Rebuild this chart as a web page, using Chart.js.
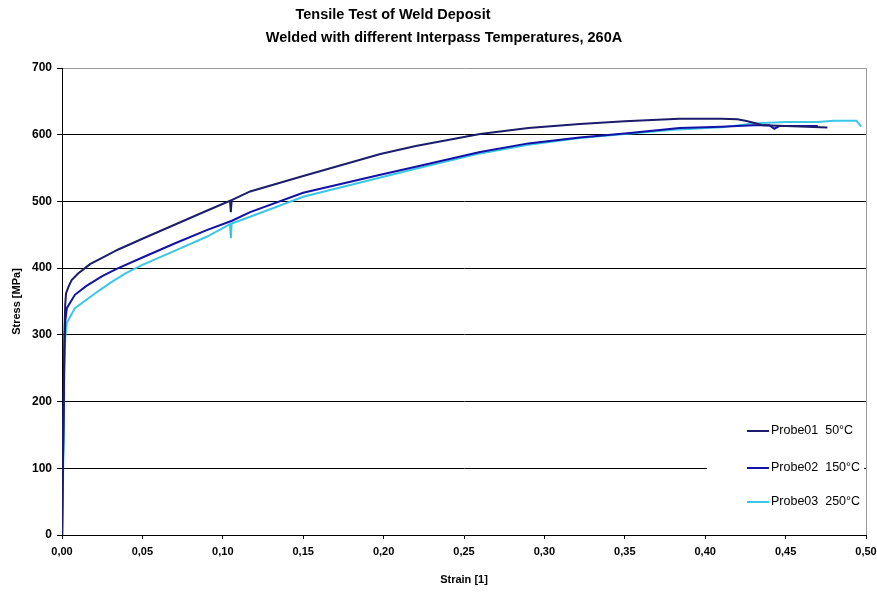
<!DOCTYPE html>
<html>
<head>
<meta charset="utf-8">
<title>Tensile Test of Weld Deposit</title>
<script src="https://cdn.jsdelivr.net/npm/chart.js@4.4.1/dist/chart.umd.min.js"></script>
<style>
  html, body { margin: 0; padding: 0; background: #fff; }
  #wrap { width: 877px; height: 594px; position: relative; }
</style>
</head>
<body>
<div id="wrap"><canvas id="tensileChart" width="877" height="594"></canvas></div>
<script>
/* ===== Daten ===== */
const TITLE_1 = "Tensile Test of Weld Deposit";
const TITLE_2 = "Welded with different Interpass Temperatures, 260A";

const xTickLabels = ["0,00", "0,05", "0,10", "0,15", "0,20", "0,25", "0,30", "0,35", "0,40", "0,45", "0,50"];
const yTickLabels = ["0", "100", "200", "300", "400", "500", "600", "700"];

const seriesNames = ["Probe01 50°C", "Probe02 150°C", "Probe03 250°C"];
const seriesColors = ["#1c1c6b", "#1212a6", "#3cc6e6"];

// Dehnung [1]
const probe01Strain = [0, 0.0008, 0.0015, 0.002, 0.0025, 0.004, 0.006, 0.010, 0.0143, 0.0174, 0.027, 0.035, 0.05, 0.07, 0.09, 0.1045, 0.105, 0.1055, 0.117, 0.15, 0.198, 0.22, 0.26, 0.29, 0.322, 0.35, 0.384, 0.41, 0.42, 0.425, 0.43, 0.436, 0.45, 0.476];
// Spannung [MPa]
const probe01Stress = [0, 150, 300, 345, 362, 372, 382, 392, 400, 406, 418, 428, 444, 465, 486, 501, 484, 502, 515, 538, 571, 583, 601, 610, 616, 620, 624, 624, 623, 621, 618, 614, 613, 611];

const probe02Strain = [0, 0.0008, 0.0015, 0.002, 0.003, 0.008, 0.015, 0.025, 0.034, 0.05, 0.07, 0.09, 0.1057, 0.117, 0.15, 0.198, 0.22, 0.26, 0.29, 0.322, 0.35, 0.384, 0.41, 0.43, 0.44, 0.443, 0.446, 0.47];
const probe02Stress = [0, 140, 280, 320, 340, 360, 373, 388, 399, 416, 437, 457, 471, 484, 513, 540, 552, 574, 587, 596, 602, 610, 612, 614, 614, 609, 613, 613];

const probe03Strain = [0, 0.0005, 0.001, 0.0015, 0.002, 0.003, 0.008, 0.0205, 0.03, 0.04, 0.05, 0.07, 0.09, 0.1045, 0.105, 0.1055, 0.117, 0.15, 0.198, 0.22, 0.26, 0.29, 0.322, 0.35, 0.384, 0.41, 0.43, 0.45, 0.47, 0.48, 0.494, 0.496, 0.497];
const probe03Stress = [0, 60, 150, 250, 295, 318, 340, 362, 378, 393, 405, 426, 447, 466, 445, 467, 477, 507, 536, 549, 572, 585, 595, 601, 608, 611, 617, 619, 619, 621, 621, 615, 612];

const toPoints = (xs, ys) => xs.map((x, i) => ({ x, y: ys[i] }));

/* ===== Titel + Legende ===== */
const decorPlugin = {
  id: "decor",
  afterDraw(chart) {
    const ctx = chart.ctx;
    const area = chart.chartArea;
    ctx.save();
    ctx.fillStyle = "#000";
    ctx.textBaseline = "middle";
    ctx.textAlign = "center";
    ctx.font = "bold 14.5px 'Liberation Sans', Arial, sans-serif";
    ctx.fillText(TITLE_1, 393, 15);
    ctx.fillText(TITLE_2, 444, 38);

    // Legende im Diagramm
    ctx.fillStyle = "#fff";
    ctx.fillRect(707, 410, area.right - 709, 120);
    ctx.textAlign = "left";
    ctx.font = "12.5px 'Liberation Sans', Arial, sans-serif";
    const rows = [431, 468, 502];
    chart.data.datasets.forEach((ds, i) => {
      const y = rows[i];
      ctx.strokeStyle = ds.borderColor;
      ctx.lineWidth = 2;
      ctx.beginPath();
      ctx.moveTo(747, y);
      ctx.lineTo(769, y);
      ctx.stroke();
      ctx.fillStyle = "#000";
      ctx.fillText(ds.label.replace(" ", "  "), 771, y);
    });
    ctx.restore();
  }
};

/* ===== Diagramm ===== */
const ctx = document.getElementById("tensileChart").getContext("2d");
new Chart(ctx, {
  type: "line",
  data: {
    datasets: [
      { label: seriesNames[0], data: toPoints(probe01Strain, probe01Stress), borderColor: seriesColors[0] },
      { label: seriesNames[1], data: toPoints(probe02Strain, probe02Stress), borderColor: seriesColors[1] },
      { label: seriesNames[2], data: toPoints(probe03Strain, probe03Stress), borderColor: seriesColors[2] },
    ].map(d => ({ ...d, borderWidth: 2, pointRadius: 0, tension: 0, fill: false })),
  },
  options: {
    responsive: false,
    animation: false,
    layout: { padding: { left: 0, top: 68, right: 11, bottom: 0 } },
    plugins: {
      legend: { display: false },
      tooltip: { enabled: false },
    },
    scales: {
      x: {
        type: "linear",
        min: 0,
        max: 0.5,
        afterFit: s => { s.height = 59; s.paddingLeft = 0; s.paddingRight = 0; },
        ticks: {
          stepSize: 0.05,
          autoSkip: false,
          maxRotation: 0,
          padding: 6,
          color: "#000",
          font: { family: "'Liberation Sans', Arial, sans-serif", size: 11, weight: "bold" },
          callback: (v, i) => xTickLabels[i],
        },
        grid: {
          drawOnChartArea: true,
          color: c => (c.tick && Math.abs(c.tick.value - 0.5) < 1e-6 ? "#999" : "transparent"),
          tickColor: "#000",
          tickLength: 4,
        },
        border: { color: "#000", width: 1 },
        title: {
          display: true,
          text: "Strain [1]",
          color: "#000",
          padding: { top: 0, bottom: 7 },
          font: { family: "'Liberation Sans', Arial, sans-serif", size: 11, weight: "bold" },
        },
      },
      y: {
        min: 0,
        max: 700,
        afterFit: s => { s.width = 62; s.paddingTop = 0; s.paddingBottom = 0; },
        ticks: {
          stepSize: 100,
          padding: 5,
          color: "#000",
          font: { family: "'Liberation Sans', Arial, sans-serif", size: 12, weight: "bold" },
          callback: (v, i) => yTickLabels[i],
        },
        grid: {
          color: c => (c.tick && c.tick.value === 700 ? "#999" : (c.tick && c.tick.value === 0 ? "transparent" : "#000")),
          tickColor: "#000",
          tickLength: 5,
        },
        border: { color: "#000", width: 1 },
        title: {
          display: true,
          text: "Stress [MPa]",
          color: "#000",
          padding: { top: 10, bottom: 0 },
          font: { family: "'Liberation Sans', Arial, sans-serif", size: 11, weight: "bold" },
        },
      },
    },
  },
  plugins: [decorPlugin],
});
</script>
</body>
</html>
